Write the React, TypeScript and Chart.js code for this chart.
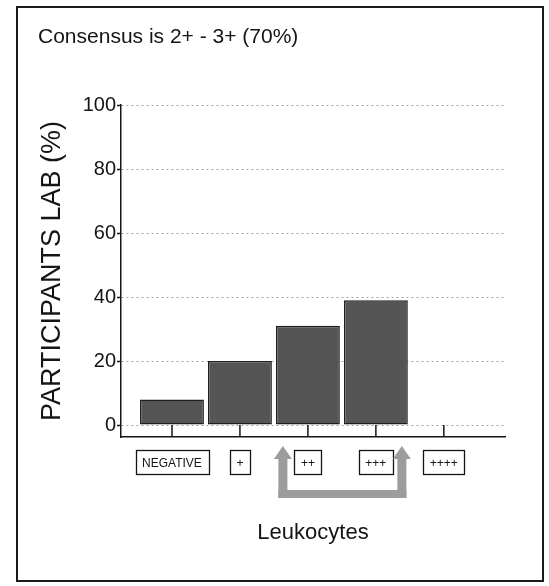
import React, { useEffect, useRef } from 'react';
import { Chart, registerables } from 'chart.js';

Chart.register(...registerables);

const categories = ['NEGATIVE', '+', '++', '+++', '++++'];
const participantsPct = [8, 20, 31, 39, 0];
const yTickValues = [0, 20, 40, 60, 80, 100];
const consensusRange = [2, 3];
const chartTitle = 'Consensus is 2+ - 3+ (70%)';
const yAxisTitle = 'PARTICIPANTS LAB (%)';
const xAxisTitle = 'Leukocytes';

const W = 549;
const H = 586;
const SANS = "'Liberation Sans', Arial, sans-serif";
const INK = '#151515';

export default function App() {
  const ref = useRef<HTMLCanvasElement>(null);

  useEffect(() => {
    const canvas = ref.current;
    if (!canvas) return;

    const decor = {
      id: 'decor',
      beforeDraw(chart: any) {
        const { ctx } = chart;
        ctx.save();
        ctx.fillStyle = '#ffffff';
        ctx.fillRect(0, 0, W, H);
        ctx.strokeStyle = '#1a1a1a';
        ctx.lineWidth = 2;
        ctx.strokeRect(17, 7, 526, 574);
        ctx.fillStyle = INK;
        ctx.font = `21px ${SANS}`;
        ctx.textAlign = 'left';
        ctx.textBaseline = 'alphabetic';
        ctx.fillText(chartTitle, 38, 43);
        ctx.restore();
      },
      afterDraw(chart: any) {
        const { ctx, chartArea } = chart;
        const x = chart.scales.x;
        const y = chart.scales.y;
        const zeroY = y.getPixelForValue(0);
        const axisY = chartArea.bottom;
        ctx.save();
        // upward category ticks
        ctx.strokeStyle = INK;
        ctx.lineWidth = 1.5;
        categories.forEach((_, i) => {
          const px = x.getPixelForValue(i);
          ctx.beginPath();
          ctx.moveTo(px, axisY);
          ctx.lineTo(px, zeroY);
          ctx.stroke();
        });
        // boxes around category labels
        ctx.font = `12px ${SANS}`;
        ctx.lineWidth = 1.3;
        categories.forEach((c, i) => {
          const px = x.getPixelForValue(i);
          const w = ctx.measureText(c).width + 13;
          ctx.strokeRect(Math.round(px - w / 2) + 0.5, axisY + 13.5, Math.round(w), 24);
        });
        // consensus arrows
        const lx = x.getPixelForValue(consensusRange[0]) - 25;
        const rx = x.getPixelForValue(consensusRange[1]) + 26;
        const headTop = axisY + 9;
        const headBot = axisY + 22;
        const barTop = axisY + 53;
        const barBot = axisY + 61;
        ctx.fillStyle = '#9c9c9c';
        const arrow = (cx: number) => {
          ctx.beginPath();
          ctx.moveTo(cx, headTop);
          ctx.lineTo(cx + 9, headBot);
          ctx.lineTo(cx + 4.5, headBot);
          ctx.lineTo(cx + 4.5, barBot);
          ctx.lineTo(cx - 4.5, barBot);
          ctx.lineTo(cx - 4.5, headBot);
          ctx.lineTo(cx - 9, headBot);
          ctx.closePath();
          ctx.fill();
        };
        arrow(lx);
        arrow(rx);
        ctx.fillRect(lx - 4.5, barTop, rx - lx + 9, barBot - barTop);
        ctx.restore();
      },
    };

    const chart = new Chart(canvas, {
      type: 'bar',
      data: {
        datasets: [
          {
            data: participantsPct.map((v, i) => ({ x: i, y: v })),
            backgroundColor: '#555555',
            borderColor: '#1e1e1e',
            borderWidth: (c: any) => (c.raw && c.raw.y === 0 ? 0 : 1.5),
            borderSkipped: false,
            barPercentage: 0.94,
            categoryPercentage: 1,
          } as any,
        ],
      },
      options: {
        responsive: false,
        animation: false,
        devicePixelRatio: 1,
        layout: { padding: { top: 105, right: 44, left: 0, bottom: 0 } },
        plugins: {
          legend: { display: false },
          tooltip: { enabled: false },
          title: { display: false },
        },
        scales: {
          x: {
            type: 'linear',
            min: -0.75,
            max: 4.9,
            offset: false,
            afterBuildTicks: (s: any) => {
              s.ticks = categories.map((_, i) => ({ value: i }));
            },
            afterFit: (s: any) => {
              s.height = H - 437;
            },
            ticks: {
              autoSkip: false,
              maxRotation: 0,
              minRotation: 0,
              padding: 19,
              color: INK,
              font: { family: SANS, size: 12 },
              callback: (_v: any, i: number) => categories[i],
            },
            grid: { display: false, drawTicks: false, offset: false },
            border: { display: true, color: INK, width: 1.5 },
            title: {
              display: true,
              text: xAxisTitle,
              color: INK,
              font: { family: SANS, size: 22 },
              padding: { top: 0, bottom: 40 },
            },
          },
          y: {
            type: 'linear',
            min: -3.75,
            max: 100,
            afterBuildTicks: (s: any) => {
              s.ticks = yTickValues.map((v) => ({ value: v }));
            },
            afterFit: (s: any) => {
              s.width = 121;
            },
            ticks: {
              padding: 1,
              color: INK,
              font: { family: SANS, size: 20 },
            },
            grid: {
              color: '#a0a0a0',
              lineWidth: 1,
              tickColor: INK,
              tickLength: 4,
              tickWidth: 1.5,
            },
            border: { display: true, color: INK, width: 1.5, dash: [2, 3] },
            title: {
              display: true,
              text: yAxisTitle,
              color: INK,
              font: { family: SANS, size: 27 },
              padding: { top: 36, bottom: 0 },
            },
          },
        },
      },
      plugins: [decor],
    } as any);

    return () => chart.destroy();
  }, []);

  return (
    <div style={{ position: 'absolute', left: 0, top: 0, width: W, height: H }}>
      <canvas ref={ref} width={W} height={H} style={{ display: 'block', width: W, height: H }} />
    </div>
  );
}
